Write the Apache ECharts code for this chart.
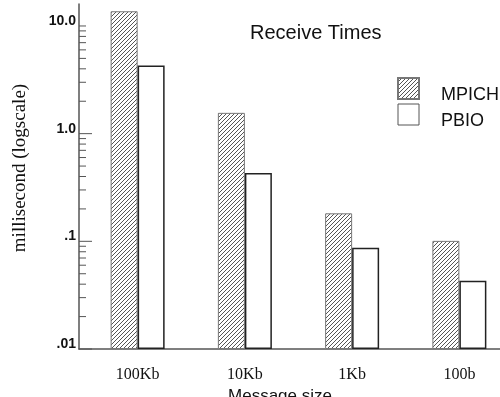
<!DOCTYPE html>
<html>
<head>
<meta charset="utf-8">
<script src="https://cdn.jsdelivr.net/npm/echarts@6/dist/echarts.min.js"></script>
<style>
html, body { margin: 0; padding: 0; background: #fff; }
#chart { width: 500px; height: 397px; }
</style>
</head>
<body>
<div id="chart"></div>
<script>
// data (milliseconds)
var categories = ['100Kb', '10Kb', '1Kb', '100b'];
var mpich = [13.7, 1.56, 0.182, 0.101];
var pbio = [4.3, 0.43, 0.087, 0.043];

var yMajorTicks = [0.01, 0.1, 1];
var yLabelValues = [0.01, 0.1, 1, 10];
var yTickLabels = ['.01', '.1', '1.0', '10.0'];

// short ticks: 2..9 in each decade, plus the one at 10
var yMinorTicks = [10];
for (var d = 0.01; d < 5; d *= 10) {
    for (var k = 2; k <= 9; k++) {
        yMinorTicks.push(+(d * k).toPrecision(3));
    }
}

// hatch for the MPICH bars
function makeHatch() {
    var s = 4;
    var c = document.createElement('canvas');
    c.width = s;
    c.height = s;
    var ctx = c.getContext('2d');
    ctx.fillStyle = '#fff';
    ctx.fillRect(0, 0, s, s);
    ctx.strokeStyle = '#555';
    ctx.lineWidth = 1;
    ctx.beginPath();
    ctx.moveTo(-1, s + 1); ctx.lineTo(s + 1, -1);
    ctx.moveTo(-1, 1); ctx.lineTo(1, -1);
    ctx.moveTo(s - 1, s + 1); ctx.lineTo(s + 1, s - 1);
    ctx.stroke();
    return c;
}

// tick marks drawn inside the y axis
function tickSeries(name, values, len) {
    return {
        name: name,
        type: 'custom',
        xAxisIndex: 1,
        yAxisIndex: 1,
        silent: true,
        data: values.map(function (v) { return [0, v]; }),
        renderItem: function (params, api) {
            var p = api.coord([0, api.value(1)]);
            return {
                type: 'line',
                shape: { x1: p[0], y1: p[1], x2: p[0] + len, y2: p[1] },
                style: { stroke: axisColor, lineWidth: 1 }
            };
        }
    };
}

var mychart = echarts.init(document.getElementById('chart'));

var axisColor = '#555';

var option = {
    animation: false,
    title: {
        text: 'Receive Times',
        left: 250,
        top: 23,
        padding: 0,
        textStyle: { fontFamily: 'Liberation Sans', fontSize: 20, fontWeight: 'normal', color: '#111' }
    },
    legend: {
        orient: 'vertical',
        left: 397,
        top: 77,
        padding: 0,
        itemGap: -1,
        itemWidth: 21,
        itemHeight: 21,
        icon: 'rect',
        data: ['MPICH', { name: 'PBIO', itemStyle: { borderColor: '#555', borderWidth: 1 } }],
        formatter: '{n|{name}}',
        textStyle: {
            color: '#111',
            rich: {
                n: { fontFamily: 'Liberation Sans', fontSize: 18, color: '#111', padding: [14, 0, 0, 17] }
            }
        }
    },
    grid: [
        { left: 84, width: 429, top: 4, bottom: 48, outerBoundsMode: 'none', containLabel: false },
        { left: 79, right: 0, top: 4, bottom: 48, outerBoundsMode: 'none', containLabel: false }
    ],
    xAxis: [{
        type: 'category',
        gridIndex: 0,
        data: categories,
        axisLine: { show: false },
        axisTick: { show: false },
        axisLabel: { margin: 18, fontFamily: 'Liberation Serif', fontSize: 16, color: '#111' }
    }, {
        type: 'value',
        gridIndex: 1,
        min: 0,
        max: 1,
        axisLine: { onZero: false, lineStyle: { color: axisColor, width: 1.5 } },
        axisTick: { show: false },
        axisLabel: { show: false },
        splitLine: { show: false },
        name: 'Message size',
        nameLocation: 'middle',
        nameGap: 39,
        nameTextStyle: { fontFamily: 'Liberation Sans', fontSize: 17, color: '#111', padding: [0, 19, 0, 0] }
    }],
    yAxis: [{
        type: 'log',
        gridIndex: 0,
        min: 0.01,
        max: 16,
        startValue: 0.01,
        offset: 5,
        name: 'millisecond (logscale)',
        nameLocation: 'middle',
        nameGap: 49,
        nameTextStyle: { fontFamily: 'Liberation Serif', fontSize: 19, color: '#111', padding: [0, 0, 0, 17] },
        axisLine: { show: true, lineStyle: { color: axisColor, width: 1.5 } },
        axisTick: { show: false },
        axisLabel: {
            margin: 3,
            customValues: yLabelValues,
            fontFamily: 'Liberation Sans',
            fontSize: 14,
            fontWeight: 'bold',
            color: '#111',
            verticalAlign: 'bottom',
            lineHeight: 10,
            formatter: function (v) {
                for (var i = 0; i < yLabelValues.length; i++) {
                    if (Math.abs(v - yLabelValues[i]) < yLabelValues[i] * 1e-6) return yTickLabels[i];
                }
                return '';
            }
        },
        splitLine: { show: false }
    }, {
        type: 'log',
        gridIndex: 1,
        min: 0.01,
        max: 16,
        show: false
    }],
    series: [{
        name: 'MPICH',
        type: 'bar',
        xAxisIndex: 0,
        yAxisIndex: 0,
        barWidth: 27,
        barGap: '0%',
        data: mpich,
        itemStyle: {
            color: { image: makeHatch(), repeat: 'repeat' },
            borderColor: '#777',
            borderWidth: 1
        }
    }, {
        name: 'PBIO',
        type: 'bar',
        xAxisIndex: 0,
        yAxisIndex: 0,
        barWidth: 27,
        barGap: '0%',
        data: pbio,
        itemStyle: {
            color: '#fff',
            borderColor: '#222',
            borderWidth: 1.5
        }
    },
    tickSeries('majorTicks', yMajorTicks, 13),
    tickSeries('minorTicks', yMinorTicks, 7)]
};

mychart.setOption(option);
</script>
</body>
</html>
